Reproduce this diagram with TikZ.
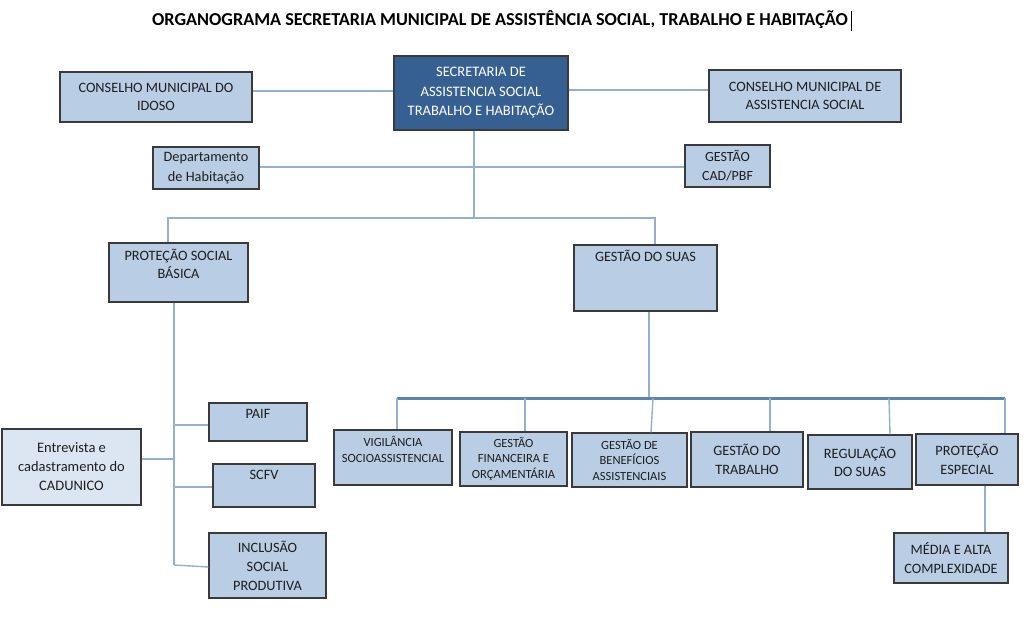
\documentclass[tikz,border=0pt]{standalone}
\usepackage{fontspec}
\setmainfont{Carlito}
\definecolor{boxfill}{HTML}{B9CDE5}
\definecolor{boxlight}{HTML}{DCE6F2}
\definecolor{boxdark}{HTML}{376092}
\definecolor{boxline}{HTML}{3A3A3A}
\definecolor{connc}{HTML}{95AFCF}
\definecolor{busc}{HTML}{5B84B4}
\definecolor{txt}{HTML}{1E1E1E}
\tikzset{
  box/.style={draw=boxline, line width=1.1pt, fill=boxfill, text=txt, align=center,
    inner sep=2pt, font=\fontsize{14.3}{18.5}\selectfont},
  smallbox/.style={box, font=\fontsize{12.5}{15.5}\selectfont},
  conn/.style={draw=connc, line width=1.4pt},
  bus/.style={draw=busc, line width=3pt},
}
\begin{document}
\begin{tikzpicture}[x=1pt,y=-1pt]
\useasboundingbox (0,0) rectangle (1024,617);
\fill[white] (0,0) rectangle (1024,617);

\node[font=\bfseries\fontsize{18.2}{22}\selectfont, text=black] (title) at (500,20)
  {ORGANOGRAMA SECRETARIA MUNICIPAL DE ASSISTÊNCIA SOCIAL, TRABALHO E HABITAÇÃO};
\draw[black, line width=0.6pt] (851,11) -- (851,31);

% top level
\node[box, fill=boxdark, text=white, minimum width=174, minimum height=74, font=\fontsize{14.5}{19.5}\selectfont] (sec) at (481,93)
  {SECRETARIA DE\\ASSISTENCIA SOCIAL\\TRABALHO E HABITAÇÃO};
\node[box, minimum width=192, minimum height=50] (idoso) at (156,97)
  {CONSELHO MUNICIPAL DO\\IDOSO};
\node[box, minimum width=192, minimum height=52] (assist) at (805,96)
  {CONSELHO MUNICIPAL DE\\ASSISTENCIA SOCIAL};
\node[box, minimum width=106, minimum height=42, font=\fontsize{14.3}{20}\selectfont] (dep) at (206,168)
  {Departamento\\de Habitação};
\node[box, minimum width=85, minimum height=42, font=\fontsize{14}{19}\selectfont] (cad) at (727.5,166)
  {GESTÃO\\CAD/PBF};

% second level
\node[box, minimum width=139, minimum height=59, text depth=17pt] (psb) at (178.5,272.5)
  {PROTEÇÃO SOCIAL\\BÁSICA};
\node[box, minimum width=143, minimum height=66, text depth=44pt] (suas) at (645.5,278)
  {GESTÃO DO SUAS};

% left branch
\node[box, minimum width=98, minimum height=38, text depth=16pt] (paif) at (258,422) {PAIF};
\node[box, minimum width=102, minimum height=43, text depth=21pt] (scfv) at (264,485.5) {SCFV};
\node[box, minimum width=117, minimum height=65, font=\fontsize{14.3}{19}\selectfont] (incl) at (267.5,565.5)
  {INCLUSÃO\\SOCIAL\\PRODUTIVA};
\node[box, fill=boxlight, minimum width=139, minimum height=76, font=\fontsize{14.5}{19}\selectfont] (entr) at (71.5,467)
  {Entrevista e\\cadastramento do\\CADUNICO};

% SUAS branch
\node[smallbox, minimum width=118, minimum height=55, text depth=16pt] (vig) at (393,457.5)
  {VIGILÂNCIA\\SOCIOASSISTENCIAL};
\node[smallbox, minimum width=107, minimum height=54] (fin) at (513.5,459)
  {GESTÃO\\FINANCEIRA E\\ORÇAMENTÁRIA};
\node[smallbox, minimum width=115, minimum height=54] (ben) at (629.5,460)
  {GESTÃO DE\\BENEFÍCIOS\\ASSISTENCIAIS};
\node[box, minimum width=112, minimum height=55] (trab) at (747,459.5)
  {GESTÃO DO\\TRABALHO};
\node[box, minimum width=104, minimum height=54] (reg) at (860,462)
  {REGULAÇÃO\\DO SUAS};
\node[box, minimum width=102, minimum height=51] (esp) at (967,459.5)
  {PROTEÇÃO\\ESPECIAL};
\node[box, minimum width=114, minimum height=50] (media) at (951,558)
  {MÉDIA E ALTA\\COMPLEXIDADE};

% connectors top
\draw[conn] (idoso.east |- 0,91) -- (sec.west |- 0,91);
\draw[conn] (sec.east |- 0,90) -- (assist.west |- 0,90);
\coordinate (jc) at (474,218);
\coordinate (jl) at (168,218);
\coordinate (jr) at (655,218);
\draw[conn] (sec.south -| jc) -- (jc);
\draw[conn] (dep.east |- 0,167) -- (cad.west |- 0,167);
\draw[conn] (jl |- psb.north) -- (jl) -- (jr) -- (jr |- suas.north);

% left branch
\coordinate (pl) at (174,565);
\draw[conn] (psb.south -| pl) -- (pl);
\draw[conn] (pl |- 0,425) -- (paif.west |- 0,425);
\draw[conn] (pl |- 0,487) -- (scfv.west |- 0,487);
\draw[conn] (pl) -- (incl.west |- 0,567);
\draw[conn] (entr.east |- 0,459) -- (pl |- 0,459);

% SUAS bus
\coordinate (bl) at (397,398);
\coordinate (br) at (1005,398);
\draw[conn] (suas.south -| 649,0) -- (649,398);
\draw[bus] (bl) -- (br);
\draw[conn] (bl) -- (bl |- vig.north);
\draw[conn] (525,398) -- (fin.north -| 525,0);
\draw[conn] (653,398) -- (ben.north -| 651,0);
\draw[conn] (770,398) -- (trab.north -| 770,0);
\draw[conn] (889,398) -- (reg.north -| 890,0);
\draw[conn] (br) -- (br |- esp.north);
\draw[conn] (esp.south -| 985,0) -- (media.north -| 985,0);
\end{tikzpicture}
\end{document}
